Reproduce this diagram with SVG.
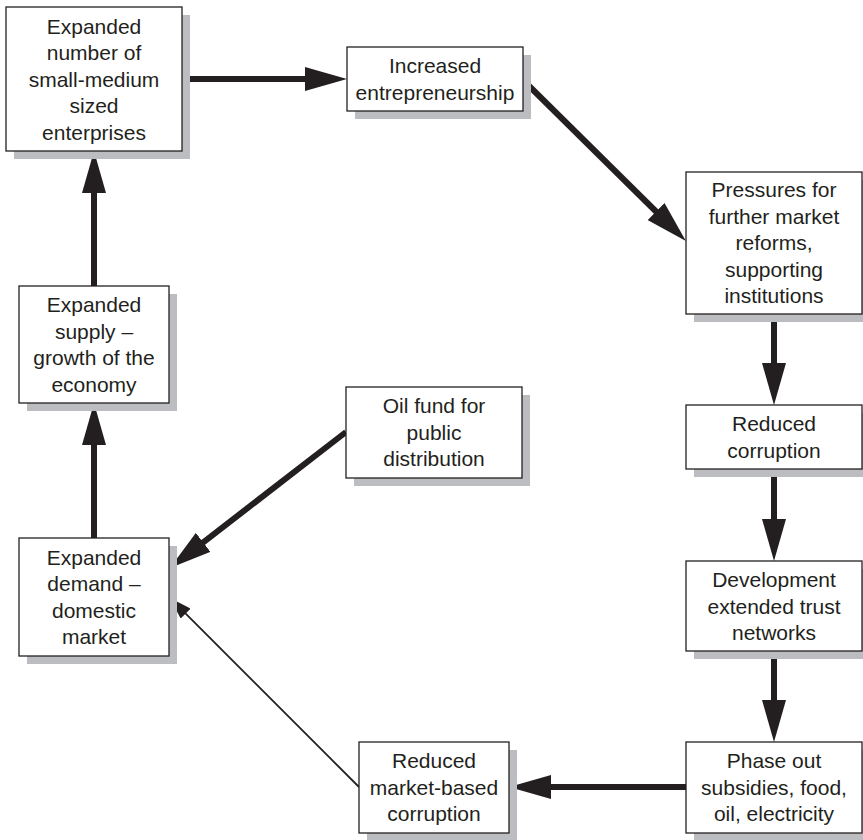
<svg xmlns="http://www.w3.org/2000/svg" width="863" height="840" viewBox="0 0 863 840">
<style>
.sh{fill:#bcbdc0}
.bx{fill:#fff;stroke:#231f20;stroke-width:1.3}
text{font-family:"Liberation Sans",Arial,sans-serif;font-size:21px;fill:#231f20;text-anchor:middle}
.thick{stroke:#231f20;stroke-width:6;fill:none}
.thin{stroke:#231f20;stroke-width:1.8;fill:none}
</style>
<defs>
<marker id="ah" markerUnits="userSpaceOnUse" markerWidth="42" markerHeight="24" refX="22" refY="12" orient="auto" viewBox="0 0 42 24">
<path d="M0,0 L42,12 L0,24 z" fill="#231f20"/>
</marker>
<marker id="ahs" markerUnits="userSpaceOnUse" markerWidth="22" markerHeight="14" refX="14" refY="7" orient="auto" viewBox="0 0 22 14">
<path d="M0,0 L22,7 L0,14 z" fill="#231f20"/>
</marker>
</defs>
<rect width="863" height="840" fill="#fff"/>
<g id="connectors">
<line class="thick" x1="182" y1="79" x2="327" y2="79" marker-end="url(#ah)"/>
<line class="thick" x1="523" y1="80" x2="671.7" y2="227" marker-end="url(#ah)"/>
<line class="thick" x1="774" y1="314" x2="774" y2="385" marker-end="url(#ah)"/>
<line class="thick" x1="774" y1="469" x2="774" y2="541" marker-end="url(#ah)"/>
<line class="thick" x1="774" y1="651" x2="774" y2="722" marker-end="url(#ah)"/>
<line class="thick" x1="686" y1="787" x2="529" y2="787" marker-end="url(#ah)"/>
<line class="thin" x1="359" y1="787" x2="175.7" y2="603.7" marker-end="url(#ahs)"/>
<line class="thick" x1="346" y1="432" x2="185.8" y2="555.8" marker-end="url(#ah)"/>
<line class="thick" x1="94" y1="538" x2="94" y2="423" marker-end="url(#ah)"/>
<line class="thick" x1="94" y1="286" x2="94" y2="171" marker-end="url(#ah)"/>
</g>
<g id="n1">
<rect class="sh" x="14" y="15" width="176" height="144"/>
<rect class="bx" x="6" y="7" width="176" height="144"/>
<text x="94" y="33.5">Expanded</text>
<text x="94" y="60">number of</text>
<text x="94" y="86.5">small-medium</text>
<text x="94" y="113">sized</text>
<text x="94" y="139.5">enterprises</text>
</g>
<g id="n2">
<rect class="sh" x="355" y="55" width="176" height="64"/>
<rect class="bx" x="347" y="47" width="176" height="64"/>
<text x="435" y="73">Increased</text>
<text x="435" y="99.5">entrepreneurship</text>
</g>
<g id="n3">
<rect class="sh" x="694" y="180" width="176" height="142"/>
<rect class="bx" x="686" y="172" width="176" height="142"/>
<text x="774" y="197.3">Pressures for</text>
<text x="774" y="223.8">further market</text>
<text x="774" y="250.3">reforms,</text>
<text x="774" y="276.8">supporting</text>
<text x="774" y="303.3">institutions</text>
</g>
<g id="n4">
<rect class="sh" x="27" y="294" width="150" height="117"/>
<rect class="bx" x="19" y="286" width="150" height="117"/>
<text x="94" y="312">Expanded</text>
<text x="94" y="338.5">supply –</text>
<text x="94" y="365">growth of the</text>
<text x="94" y="391.5">economy</text>
</g>
<g id="n5">
<rect class="sh" x="354" y="395" width="176" height="91"/>
<rect class="bx" x="346" y="387" width="176" height="91"/>
<text x="434" y="413.3">Oil fund for</text>
<text x="434" y="439.8">public</text>
<text x="434" y="466.3">distribution</text>
</g>
<g id="n6">
<rect class="sh" x="27" y="546" width="150" height="118"/>
<rect class="bx" x="19" y="538" width="150" height="118"/>
<text x="94" y="564.5">Expanded</text>
<text x="94" y="591">demand –</text>
<text x="94" y="617.5">domestic</text>
<text x="94" y="644">market</text>
</g>
<g id="n7">
<rect class="sh" x="367" y="750" width="150" height="91"/>
<rect class="bx" x="359" y="742" width="150" height="91"/>
<text x="434" y="768.3">Reduced</text>
<text x="434" y="794.8">market-based</text>
<text x="434" y="821.3">corruption</text>
</g>
<g id="n8">
<rect class="sh" x="694" y="750" width="176" height="91"/>
<rect class="bx" x="686" y="742" width="176" height="91"/>
<text x="774" y="768.3">Phase out</text>
<text x="774" y="794.8">subsidies, food,</text>
<text x="774" y="821.3">oil, electricity</text>
</g>
<g id="n9">
<rect class="sh" x="694" y="413" width="176" height="64"/>
<rect class="bx" x="686" y="405" width="176" height="64"/>
<text x="774" y="431">Reduced</text>
<text x="774" y="457.5">corruption</text>
</g>
<g id="n10">
<rect class="sh" x="694" y="569" width="176" height="90"/>
<rect class="bx" x="686" y="561" width="176" height="90"/>
<text x="774" y="587">Development</text>
<text x="774" y="613.5">extended trust</text>
<text x="774" y="640">networks</text>
</g>
</svg>
